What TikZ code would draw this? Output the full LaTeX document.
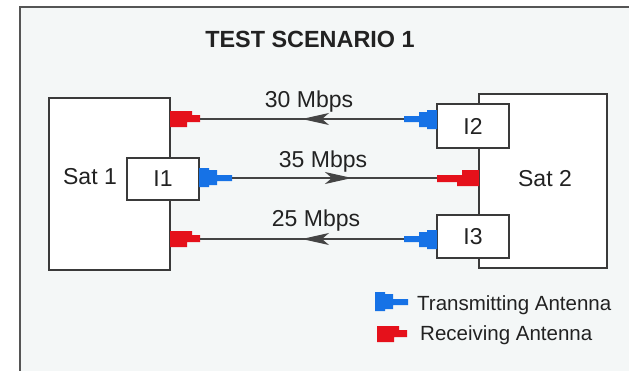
\documentclass[tikz,border=0pt]{standalone}
\usepackage{fontspec}
\setmainfont{Liberation Sans}
\usepackage{tikz}
\usetikzlibrary{arrows.meta,decorations.markings}
\definecolor{Ink}{HTML}{222222}
\definecolor{Frame}{HTML}{555555}
\definecolor{Panel}{HTML}{F4F7F7}
\definecolor{BoxLine}{HTML}{3A3A3A}
\definecolor{Wire}{HTML}{444444}
\definecolor{TxBlue}{HTML}{1672E6}
\definecolor{RxRed}{HTML}{E5111B}
\tikzset{
  unit/.style={draw=BoxLine,line width=1.6pt,fill=white,inner sep=0pt,text=Ink,font=\fontsize{23}{27}\selectfont},
  lbl/.style={inner sep=0pt,text=Ink,font=\fontsize{23}{27}\selectfont},
  keytext/.style={inner sep=0pt,text=Ink,font=\fontsize{20.5}{24}\selectfont,anchor=base west},
  link/.style={draw=Wire,color=Wire,line width=1.2pt,postaction={decorate},
    decoration={markings,mark=at position #1 with {\arrow{Stealth[length=27pt,width=12pt,inset=7pt]}}}},
  pics/txant/.style={code={\fill[TxBlue] (0,-10) -- (10,-10) -- (10,-8) -- (18,-8) -- (18,-3) -- (33,-3) -- (33,3) -- (18,3) -- (18,7) -- (10,7) -- (10,9) -- (0,9) -- cycle;}},
  pics/rxant/.style={code={\fill[RxRed] (0,-8) -- (22,-8) -- (22,-4) -- (#1,-4) -- (#1,3) -- (17,3) -- (17,8) -- (0,8) -- cycle;}}
}
\begin{document}
\begin{tikzpicture}[x=1pt,y=-1pt]
  \useasboundingbox (0,0) rectangle (629,370);
  \clip (0,0) rectangle (629,370);
  \fill[white] (0,0) rectangle (629,370);
  \draw[draw=Frame,fill=Panel,line width=2.6pt] (20,7) rectangle (660,400);
  \node[lbl,font=\fontsize{23.4}{28}\selectfont\bfseries,anchor=base] (title) at (310,47) {TEST SCENARIO 1};
  \node[unit,minimum width=121pt,minimum height=172pt] (sat1) at (109.5,184) {};
  \node[unit,minimum width=128pt,minimum height=174pt] (sat2) at (543,181) {};
  \node[unit,minimum width=72pt,minimum height=42pt] (i1) at (163,179) {I1};
  \node[unit,minimum width=72pt,minimum height=44pt] (i2) at (473,126) {I2};
  \node[unit,minimum width=72pt,minimum height=43pt] (i3) at (473,236.5) {I3};
  \node[lbl,anchor=base] (sat1lbl) at (90,184) {Sat 1};
  \node[lbl,anchor=base] (sat2lbl) at (545,186) {Sat 2};
  \pic at (170,119) {rxant=30}; \pic at (170,239) {rxant=30}; \pic[rotate=180] at (479,178) {rxant=42};
  \pic at (199,178) {txant}; \pic[rotate=180] at (437,119) {txant}; \pic[rotate=180] at (437,239) {txant};
  \coordinate (rxa) at (200,119); \coordinate (rxb) at (437,178); \coordinate (rxc) at (200,239);
  \coordinate (txa) at (232,178); \coordinate (txb) at (404,119); \coordinate (txc) at (404,239);
  \draw[link=0.5] (txb) -- (rxa); \draw[link=0.585] (txa) -- (rxb); \draw[link=0.5] (txc) -- (rxc);
  \node[lbl,anchor=base] (bw30) at (309,107) {30 Mbps};
  \node[lbl,anchor=base] (bw35) at (323,167) {35 Mbps};
  \node[lbl,anchor=base] (bw25) at (316,226) {25 Mbps};
  \pic at (375,302) {txant}; \pic at (377,334) {rxant=30};
  \node[keytext] (keytx) at (417,310) {Transmitting Antenna};
  \node[keytext] (keyrx) at (420,340) {Receiving Antenna};
\end{tikzpicture}
\end{document}
